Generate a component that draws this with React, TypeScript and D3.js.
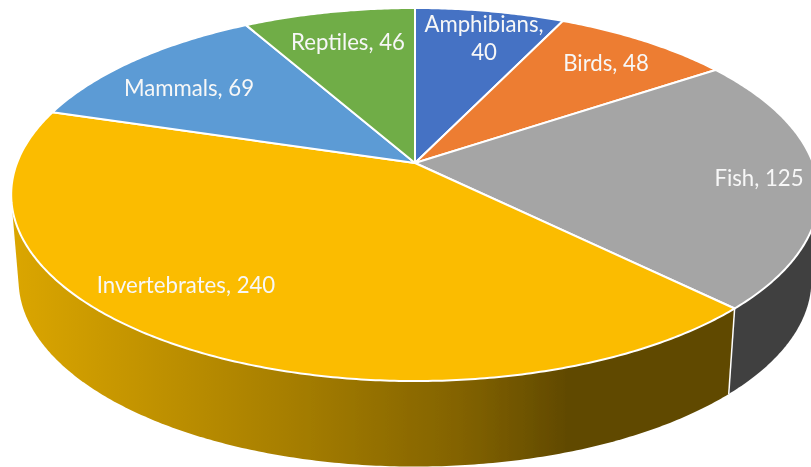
import React from "react";
import * as d3 from "d3";

const categories = ["Amphibians", "Birds", "Fish", "Invertebrates", "Mammals", "Reptiles"];
const values = [40, 48, 125, 240, 69, 46];
const colors = ["#4472c4", "#ed7d31", "#a5a5a5", "#fbbc00", "#5b9bd5", "#70ad47"];
const labelLines = [["Amphibians,", "40"], ["Birds, 48"], ["Fish, 125"], ["Invertebrates, 240"], ["Mammals, 69"], ["Reptiles, 46"]];
const labelAnchors: [number, number][] = [[484, 32], [606, 71], [759, 186], [186, 293], [189, 96], [348, 50]];

const W = 811, H = 467;
const K = -0.169;
const top = { x: 415, y: 163, a: 398, b: 181.2 };
const bottom = { x: 415, y: 248.5, a: 390.7, b: 181.2 };

type Rim = typeof top;
const project = (r: Rim, t: number): [number, number] => {
  const u = Math.sin(t), v = -Math.cos(t), d = 1 + K * v;
  return [r.x + (r.a * u) / d, r.y + (r.b * v) / d];
};
const arcPoints = (r: Rim, t0: number, t1: number) => {
  const n = Math.max(2, Math.ceil((t1 - t0) / 0.01));
  return d3.range(n + 1).map((i) => project(r, t0 + ((t1 - t0) * i) / n));
};
const line = d3.line();

const slices = d3.pie<number>().sort(null).value((d) => d)(values);

const wallPath = (t0: number, t1: number) => {
  const hull = d3.polygonHull([...arcPoints(top, t0, t1), ...arcPoints(bottom, t0, t1)])!;
  return line(hull) + "Z";
};
const topPath = (t0: number, t1: number) =>
  line([[top.x, top.y], ...arcPoints(top, t0, t1)] as [number, number][]) + "Z";

export default function App() {
  return (
    <svg width={W} height={H} viewBox={`0 0 ${W} ${H}`}
      style={{ position: "absolute", left: 0, top: 0, background: "#fff", display: "block" }}>
      <defs>
        <linearGradient id="wallGold" gradientUnits="userSpaceOnUse" x1="12" x2="570" y1="0" y2="0">
          <stop offset="0" stopColor="#dba600" />
          <stop offset="0.5" stopColor="#a67e00" />
          <stop offset="0.8" stopColor="#836300" />
          <stop offset="1" stopColor="#604900" />
        </linearGradient>
        <filter id="soft" x="-2%" y="-2%" width="104%" height="104%">
          <feGaussianBlur stdDeviation="0.5" />
        </filter>
      </defs>
      <g filter="url(#soft)">
        <path d={wallPath(slices[2].startAngle, slices[2].endAngle)} fill="#404040" />
        <path d={wallPath(slices[3].startAngle, slices[3].endAngle)} fill="url(#wallGold)" />
        <path d={line([project(top, slices[2].endAngle), project(bottom, slices[2].endAngle)])!}
          stroke="#fff" strokeWidth={1.5} fill="none" />
        {slices.map((s, i) => (
          <path key={categories[i]} d={topPath(s.startAngle, s.endAngle)} fill={colors[i]}
            stroke="#fff" strokeWidth={2} strokeLinejoin="round" />
        ))}
        {slices.map((s, i) =>
          labelLines[i].map((txt, j) => (
            <text key={txt} x={labelAnchors[i][0]} y={labelAnchors[i][1] + j * 28}
              textAnchor="middle" fontFamily="Lato, sans-serif" fontSize={22.2} fill="#f7f7f7">
              {txt}
            </text>
          ))
        )}
      </g>
    </svg>
  );
}
